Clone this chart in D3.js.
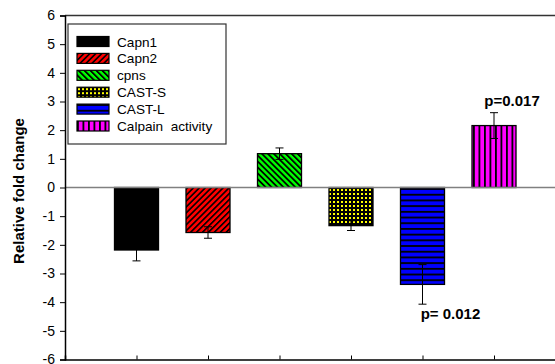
<!DOCTYPE html>
<html>
<head>
<meta charset="utf-8">
<script src="https://cdn.jsdelivr.net/npm/d3@7"></script>
<style>
  html, body { margin: 0; padding: 0; background: #fff; }
  svg { display: block; font-family: Arial, "Liberation Sans", sans-serif; }
</style>
</head>
<body>
<svg id="chart" width="555" height="364"></svg>
<script>
// Gene expression / calpain activity, relative fold change with SEM
const categories = ["Capn1", "Capn2", "cpns", "CAST-S", "CAST-L", "Calpain  activity"];
const values = [-2.18, -1.57, 1.18, -1.33, -3.38, 2.16];
const errors = [0.38, 0.20, 0.20, 0.17, 0.69, 0.45];
const yTicks = [-6, -5, -4, -3, -2, -1, 0, 1, 2, 3, 4, 5, 6];
const xTicks = [1, 2, 3, 4, 5, 6];
const pLabels = [
  { index: 5, text: "p=0.017", side: "top" },
  { index: 4, text: "p= 0.012", side: "bottom" }
];

const svg = d3.select("#chart");
const plotLeft = 65, plotTop = 15.5, plotBottom = 359.5;

const x = d3.scaleLinear().domain([0, 7]).range([plotLeft, 565.5]);
const y = d3.scaleLinear().domain([-6, 6]).range([plotBottom, plotTop]);
const barW = 44;

// fill patterns
const defs = svg.append("defs");
function pattern(id, w, h, bg, draw) {
  const p = defs.append("pattern").attr("id", id)
    .attr("patternUnits", "userSpaceOnUse").attr("width", w).attr("height", h);
  p.append("rect").attr("width", w).attr("height", h).attr("fill", bg);
  draw(p);
}
pattern("pRed", 4.2, 4.2, "#ff0000", p => {
  p.attr("patternTransform", "rotate(45)");
  p.append("rect").attr("x", 0).attr("y", 0).attr("width", 1.6).attr("height", 4.2).attr("fill", "#000");
});
pattern("pGreen", 4.2, 4.2, "#00ff00", p => {
  p.attr("patternTransform", "rotate(-45)");
  p.append("rect").attr("x", 0).attr("y", 0).attr("width", 1.8).attr("height", 4.2).attr("fill", "#000");
});
pattern("pYellow", 4, 4, "#000", p => {
  p.append("rect").attr("x", 1).attr("y", 1).attr("width", 2).attr("height", 2).attr("fill", "#ffff00");
});
pattern("pBlue", 6, 5.7, "#0000ff", p => {
  p.append("rect").attr("x", 0).attr("y", 0).attr("width", 6).attr("height", 1.8).attr("fill", "#000");
});
pattern("pMagenta", 5.5, 6, "#ff00ff", p => {
  p.append("rect").attr("x", 0).attr("y", 0).attr("width", 1.8).attr("height", 6).attr("fill", "#000");
});
const fills = ["#000", "url(#pRed)", "url(#pGreen)", "url(#pYellow)", "url(#pBlue)", "url(#pMagenta)"];

// frame: top border
svg.append("line").attr("x1", plotLeft).attr("x2", 555).attr("y1", y(6)).attr("y2", y(6))
  .attr("stroke", "#333").attr("stroke-width", 1.5);

// bars
const bars = svg.append("g");
bars.selectAll("rect").data(values).join("rect")
  .attr("x", (d, i) => x(i + 1) - barW / 2)
  .attr("y", d => Math.min(y(d), y(0)))
  .attr("width", barW)
  .attr("height", d => Math.abs(y(d) - y(0)))
  .attr("fill", (d, i) => fills[i])
  .attr("stroke", "#000").attr("stroke-width", 1.3);

// zero line
svg.append("line").attr("x1", plotLeft).attr("x2", 555).attr("y1", y(0)).attr("y2", y(0))
  .attr("stroke", "#808080").attr("stroke-width", 1.5);

// error bars
const err = svg.append("g").attr("stroke", "#000").attr("stroke-width", 1);
values.forEach((v, i) => {
  const cx = x(i + 1);
  const y1 = y(v - errors[i]), y2 = y(v + errors[i]);
  err.append("line").attr("x1", cx).attr("x2", cx).attr("y1", y1).attr("y2", y2);
  [y1, y2].forEach(yy => err.append("line").attr("x1", cx - 4).attr("x2", cx + 4).attr("y1", yy).attr("y2", yy));
});

// y axis
const yAxis = d3.axisLeft(y).tickValues(yTicks).tickSize(5).tickPadding(5).tickFormat(d3.format("d"));
const gy = svg.append("g").attr("transform", `translate(${plotLeft},0)`).call(yAxis);
gy.select(".domain").attr("stroke", "#000").attr("stroke-width", 1.5);
gy.selectAll(".tick line").attr("stroke", "#000");
gy.selectAll("text").attr("font-size", 14).attr("font-family", "Arial, 'Liberation Sans', sans-serif")
  .attr("fill", "#000");
gy.selectAll(".tick text").text(d => d < 0 ? "-" + Math.abs(d) : d);

// x axis (bottom, inward ticks, no labels)
const xAxis = d3.axisBottom(x).tickValues(xTicks).tickSize(-4).tickFormat("");
const gx = svg.append("g").attr("transform", `translate(0,${plotBottom})`).call(xAxis);
gx.select(".domain").attr("stroke", "#000").attr("stroke-width", 1.5);
gx.selectAll(".tick line").attr("stroke", "#000");

// y axis title
svg.append("text")
  .attr("transform", `translate(23.5,${191}) rotate(-90)`)
  .attr("text-anchor", "middle").attr("font-size", 15).attr("font-weight", "bold")
  .text("Relative fold change");

// significance labels
pLabels.forEach(p => {
  const v = values[p.index], e = errors[p.index];
  const yy = p.side === "top" ? y(v + e) - 7 : y(v - e) + 15;
  svg.append("text").attr("x", x(p.index + 1) + (p.side === "top" ? 18 : 28))
    .attr("y", yy).attr("text-anchor", "middle")
    .attr("font-size", 15).attr("font-weight", "bold").text(p.text);
});

// legend
const lg = svg.append("g").attr("transform", "translate(68,24)");
lg.append("rect").attr("width", 158).attr("height", 120)
  .attr("fill", "#fff").attr("stroke", "#333").attr("stroke-width", 1.2);
categories.forEach((c, i) => {
  const row = lg.append("g").attr("transform", `translate(9,${12.5 + i * 16.9})`);
  row.append("rect").attr("width", 32).attr("height", 10)
    .attr("fill", fills[i]).attr("stroke", "#000").attr("stroke-width", 1.2);
  row.append("text").attr("x", 40).attr("y", 10).attr("font-size", 13.6)
    .attr("xml:space", "preserve").style("white-space", "pre").text(c);
});
</script>
</body>
</html>
